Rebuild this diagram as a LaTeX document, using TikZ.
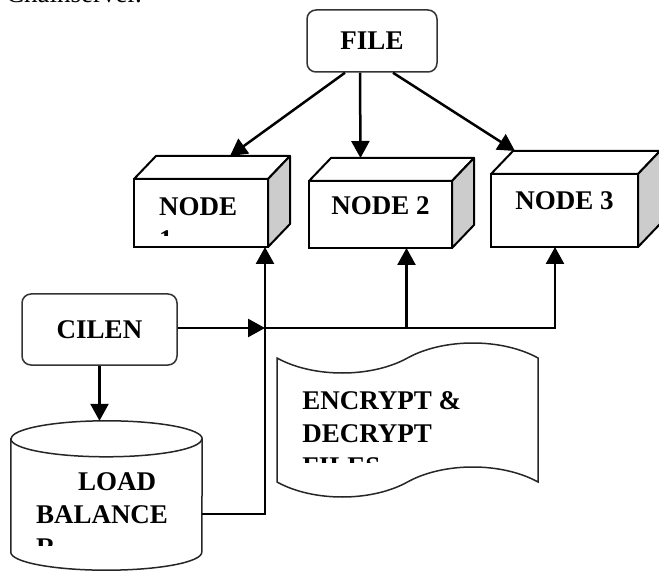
\documentclass[tikz,border=0pt]{standalone}
\usepackage{fontspec}
\setmainfont{Liberation Serif}
\usetikzlibrary{positioning, arrows.meta, shapes.symbols}

\begin{document}
\begin{tikzpicture}[
        x=1pt, y=-1pt,
        font=\fontsize{27}{33}\selectfont\bfseries,
        roundbox/.style={rectangle, draw=black!80, line width=1.5pt, rounded corners=9pt, minimum width=130pt, minimum height=62pt},
        cube/.style={rectangle, draw, line width=2pt, outer sep=0pt, fill=white},
        lid/.style={draw, line width=2pt, fill=white, line join=round},
        side/.style={draw, line width=2pt, fill=black!20, line join=round},
        label/.style={inner sep=0pt, align=left},
        outline/.style={draw=black!85, line width=1.5pt},
        link/.style={line width=2.5pt},
        arrow/.style={line width=2.5pt, -{Triangle[length=17pt, width=18pt]}}
    ]
    \useasboundingbox (0,0) rectangle (659,572);

    % end of the caption above, cut by the page
    \node[inner sep=0pt, anchor=base west, font=\fontsize{27}{33}\selectfont\mdseries] (chainsrv) at (6,3) {Chainserver.};

    \node[roundbox] (file) at (372,41) {FILE\hspace{14pt}};
    \node[roundbox, minimum width=155pt, minimum height=71pt] (cilen) at (99.5,329.5) {CILEN\hspace{12pt}};

    \node[cube, minimum width=134pt, minimum height=68pt] (node1) at (201,213) {};
    \node[cube, minimum width=143pt, minimum height=67pt] (node2) at (380.5,214.5) {};
    \node[cube, minimum width=147pt, minimum height=73pt] (node3) at (564.5,210.5) {};
    \foreach \n in {node1,node2,node3} {
        \draw[lid] (\n.north west) -- ([shift={(22,-23)}]\n.north west) -- ([shift={(22,-23)}]\n.north east) -- (\n.north east) -- cycle;
        \draw[side] (\n.north east) -- ([shift={(22,-23)}]\n.north east) -- ([shift={(22,-23)}]\n.south east) -- (\n.south east) -- cycle;
    }
    \node[label, below=15pt of node2.north] (node2text) {NODE 2};
    \node[label, below=17pt of node3.north] (node3text) {NODE 3};
    \begin{scope}
        \clip (node1.north west) rectangle ([yshift=11pt]node1.south east);
        \node[label, below right=18pt and 25pt of node1.north west] (node1text) {NODE\\1};
    \end{scope}

    % load balancer drum
    \node[minimum width=191pt, minimum height=149pt, inner sep=0pt] (lb) at (106.5,495.5) {};
    \draw[outline, fill=white] ([yshift=-18pt]lb.north west) -- ([yshift=18pt]lb.south west)
        arc[start angle=180, end angle=360, x radius=95.5pt, y radius=18pt]
        -- ([yshift=-18pt]lb.north east)
        arc[start angle=0, end angle=180, x radius=95.5pt, y radius=18pt] -- cycle;
    \draw[outline] ([yshift=-18pt]lb.north west) arc[start angle=180, end angle=360, x radius=95.5pt, y radius=18pt];
    \begin{scope}
        \clip (lb.north west) rectangle ([yshift=25pt]lb.south east);
        \node[label, below right=52pt and 25pt of lb.north west] (lbtext) {\hspace*{42pt}LOAD\\BALANCE\\R};
    \end{scope}

    % encrypt / decrypt tape
    \node[tape, outline, minimum width=261pt, minimum height=154pt, tape bend height=30pt] (enc) at (407.5,420) {};
    \begin{scope}
        \clip ([yshift=-10pt]enc.north west) rectangle (enc.east |- 0,462);
        \node[label, below right=35pt and 26pt of enc.north west] (enctext) {ENCRYPT \&\\DECRYPT\\FILES};
    \end{scope}

    \coordinate (jn) at (265,328);
    \coordinate (lbout) at (202,514);

    \draw[arrow] ([xshift=-27pt]file.south) -- ([shift={(29,-23)}]node1.north);
    \draw[arrow] ([xshift=-12pt]file.south) -- ([shift={(-20,-23)}]node2.north);
    \draw[arrow] ([xshift=21pt]file.south) -- ([shift={(24,-23)}]node3.north west);

    \draw[arrow] (cilen.east |- jn) -- (jn);
    \draw[arrow] (jn) -| ([xshift=26pt]node2.south);
    \draw[arrow] (jn) -| ([xshift=-9.5pt]node3.south);
    \draw[arrow] (lbout) -| (jn |- node1.south);
    \draw[arrow] (cilen.south) -- (cilen.south |- lb.north);
\end{tikzpicture}
\end{document}
